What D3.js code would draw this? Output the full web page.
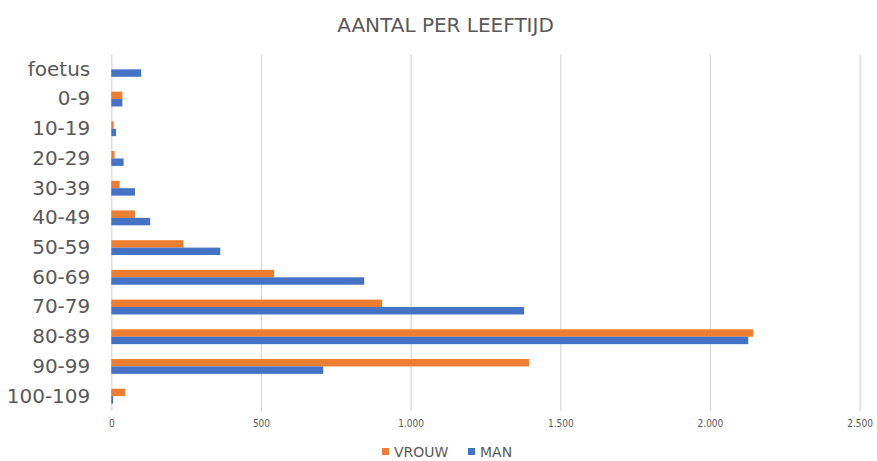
<!DOCTYPE html>
<html>
<head>
<meta charset="utf-8">
<script src="https://cdn.jsdelivr.net/npm/d3@7"></script>
<style>
  html, body { margin: 0; padding: 0; background: #ffffff; }
  svg { display: block; }
</style>
</head>
<body>
<svg id="chart" width="877" height="461"></svg>
<script>
const categories = ["foetus", "0-9", "10-19", "20-29", "30-39", "40-49", "50-59", "60-69", "70-79", "80-89", "90-99", "100-109"];
const seriesNames = ["VROUW", "MAN"];
const vrouw = [0, 37, 8, 11, 28, 79, 241, 544, 905, 2145, 1396, 46];
const man = [100, 37, 16, 41, 79, 130, 364, 845, 1379, 2128, 708, 6];
const tickValues = [0, 500, 1000, 1500, 2000, 2500];
const title = "AANTAL PER LEEFTIJD";

(function () {
const colors = { VROUW: "#ED7D31", MAN: "#4472C4" };
const textColor = "#595959";
const gridColor = "#d9d9d9";

const svg = d3.select("#chart");
const pLeft = 111.3, pRight = 859.6, pTop = 54.5, pBottom = 411;

const x = d3.scaleLinear().domain([0, 2500]).range([pLeft, pRight]);
const y = d3.scaleBand().domain(categories).range([pTop, pBottom]).padding(0);
const step = y.bandwidth();
const ySub = d3.scaleBand().domain(seriesNames).range([step * 0.25, step * 0.75]).padding(0);

const locale = d3.formatLocale({ decimal: ",", thousands: ".", grouping: [3], currency: ["€", ""] });
const fmt = locale.format(",");

// Title
svg.append("text")
  .attr("x", 445.5).attr("y", 32)
  .attr("text-anchor", "middle")
  .attr("font-family", "DejaVu Sans, sans-serif")
  .attr("font-size", "20px")
  .attr("fill", textColor)
  .text(title);

// Grid + x axis
const xAxis = d3.axisBottom(x).tickValues(tickValues).tickFormat(fmt).tickSize(-(pBottom - pTop)).tickPadding(9);
const gx = svg.append("g").attr("transform", `translate(0,${pBottom})`).call(xAxis);
gx.select(".domain").remove();
gx.selectAll(".tick line").attr("stroke", gridColor).attr("stroke-width", 1.3);
gx.selectAll(".tick text")
  .attr("fill", textColor)
  .attr("font-family", "Liberation Sans Narrow, DejaVu Sans Condensed, sans-serif")
  .attr("font-size", "10px");

// Y labels
const yAxis = d3.axisLeft(y).tickSize(0).tickPadding(21);
const gy = svg.append("g").attr("transform", `translate(${pLeft},0)`).call(yAxis);
gy.select(".domain").remove();
gy.selectAll(".tick text")
  .attr("fill", textColor)
  .attr("font-family", "DejaVu Sans, sans-serif")
  .attr("font-size", "20px");

// Bars
const rows = categories.map((c, i) => ({ cat: c, VROUW: vrouw[i], MAN: man[i] }));
const groups = svg.append("g").selectAll("g").data(rows).join("g")
  .attr("transform", d => `translate(0,${y(d.cat)})`);
groups.selectAll("rect")
  .data(d => seriesNames.map(s => ({ s, v: d[s] })))
  .join("rect")
  .attr("x", x(0))
  .attr("y", d => ySub(d.s))
  .attr("width", d => x(d.v) - x(0))
  .attr("height", ySub.bandwidth())
  .attr("fill", d => colors[d.s]);

// Legend
const legend = svg.append("g").attr("font-family", "DejaVu Sans, sans-serif").attr("font-size", "14px");
const legendItems = [{ s: "VROUW", x: 382 }, { s: "MAN", x: 468 }];
legendItems.forEach(it => {
  legend.append("rect").attr("x", it.x).attr("y", 448).attr("width", 7).attr("height", 7).attr("fill", colors[it.s]);
  legend.append("text").attr("x", it.x + 12).attr("y", 457).attr("fill", textColor).text(it.s);
});
})();
</script>
</body>
</html>
